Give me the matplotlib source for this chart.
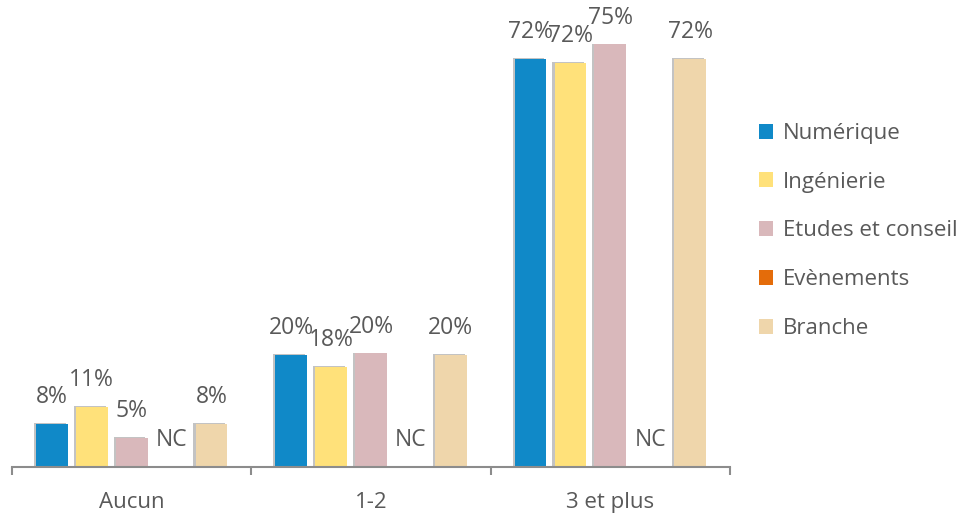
import matplotlib.pyplot as plt
import matplotlib.patheffects as pe
from matplotlib.patches import Patch
import numpy as np

plt.rcParams['font.family'] = ['Open Sans', 'DejaVu Sans']

# data
categories = ['Aucun', '1-2', '3 et plus']
series = ['Numérique', 'Ingénierie', 'Etudes et conseil', 'Evènements', 'Branche']
values = {
    'Numérique': [7.6, 19.8, 72.3],
    'Ingénierie': [10.6, 17.7, 71.6],
    'Etudes et conseil': [5.1, 20.1, 74.8],
    'Evènements': [None, None, None],
    'Branche': [7.6, 19.8, 72.3],
}
labels = {
    'Numérique': ['8%', '20%', '72%'],
    'Ingénierie': ['11%', '18%', '72%'],
    'Etudes et conseil': ['5%', '20%', '75%'],
    'Evènements': ['NC', 'NC', 'NC'],
    'Branche': ['8%', '20%', '72%'],
}
colors = ['#1089C8', '#FFE17A', '#D9B8BB', '#E46C0A', '#EFD6AB']

fig = plt.figure(figsize=(9.68, 5.2), dpi=100)
ax = fig.add_axes([12 / 968, 1 - 467 / 520, 718 / 968, 448 / 520])

x = np.arange(len(categories))
step = 1 / 6
width = 0.133
txt = '#595959'
shadow = [pe.SimplePatchShadow(offset=(-1.5, 0.5), shadow_rgbFace='#555555', alpha=0.35), pe.Normal()]

for i, s in enumerate(series):
    pos = x + (i - 2) * step
    for j, v in enumerate(values[s]):
        if v is None:
            ax.text(pos[j], 4.8, labels[s][j], ha='center', va='center', fontsize=16.5, color=txt)
            continue
        b = ax.bar(pos[j], v, width, color=colors[i], zorder=2)
        for p in b:
            p.set_path_effects(shadow)
        ax.text(pos[j], v + 2.6, labels[s][j], ha='center', va='bottom', fontsize=16.5, color=txt)

ax.set_xlim(-0.5, 2.5)
ax.set_ylim(0, 79.3)
for sp in ['top', 'right', 'left']:
    ax.spines[sp].set_visible(False)
ax.spines['bottom'].set_color('#8C8C8C')
ax.spines['bottom'].set_linewidth(1.5)
ax.set_yticks([])
ax.set_xticks([-0.5, 0.5, 1.5, 2.5])
ax.set_xticklabels([])
ax.tick_params(axis='x', which='major', length=6, width=1.5, color='#8C8C8C', direction='out')
ax.set_xticks(x, minor=True)
ax.set_xticklabels(categories, minor=True, fontsize=16, color=txt)
ax.tick_params(axis='x', which='minor', length=0, pad=18)

handles = [Patch(facecolor=c, edgecolor='none') for c in colors]
fig.legend(handles, series, loc='upper left', bbox_to_anchor=(750 / 968, 1 - 114 / 520),
           frameon=False, fontsize=16, labelcolor=txt, handlelength=0.65, handleheight=0.65,
           handletextpad=0.45, labelspacing=1.25, borderaxespad=0)

fig.savefig('out.png', dpi=100)
